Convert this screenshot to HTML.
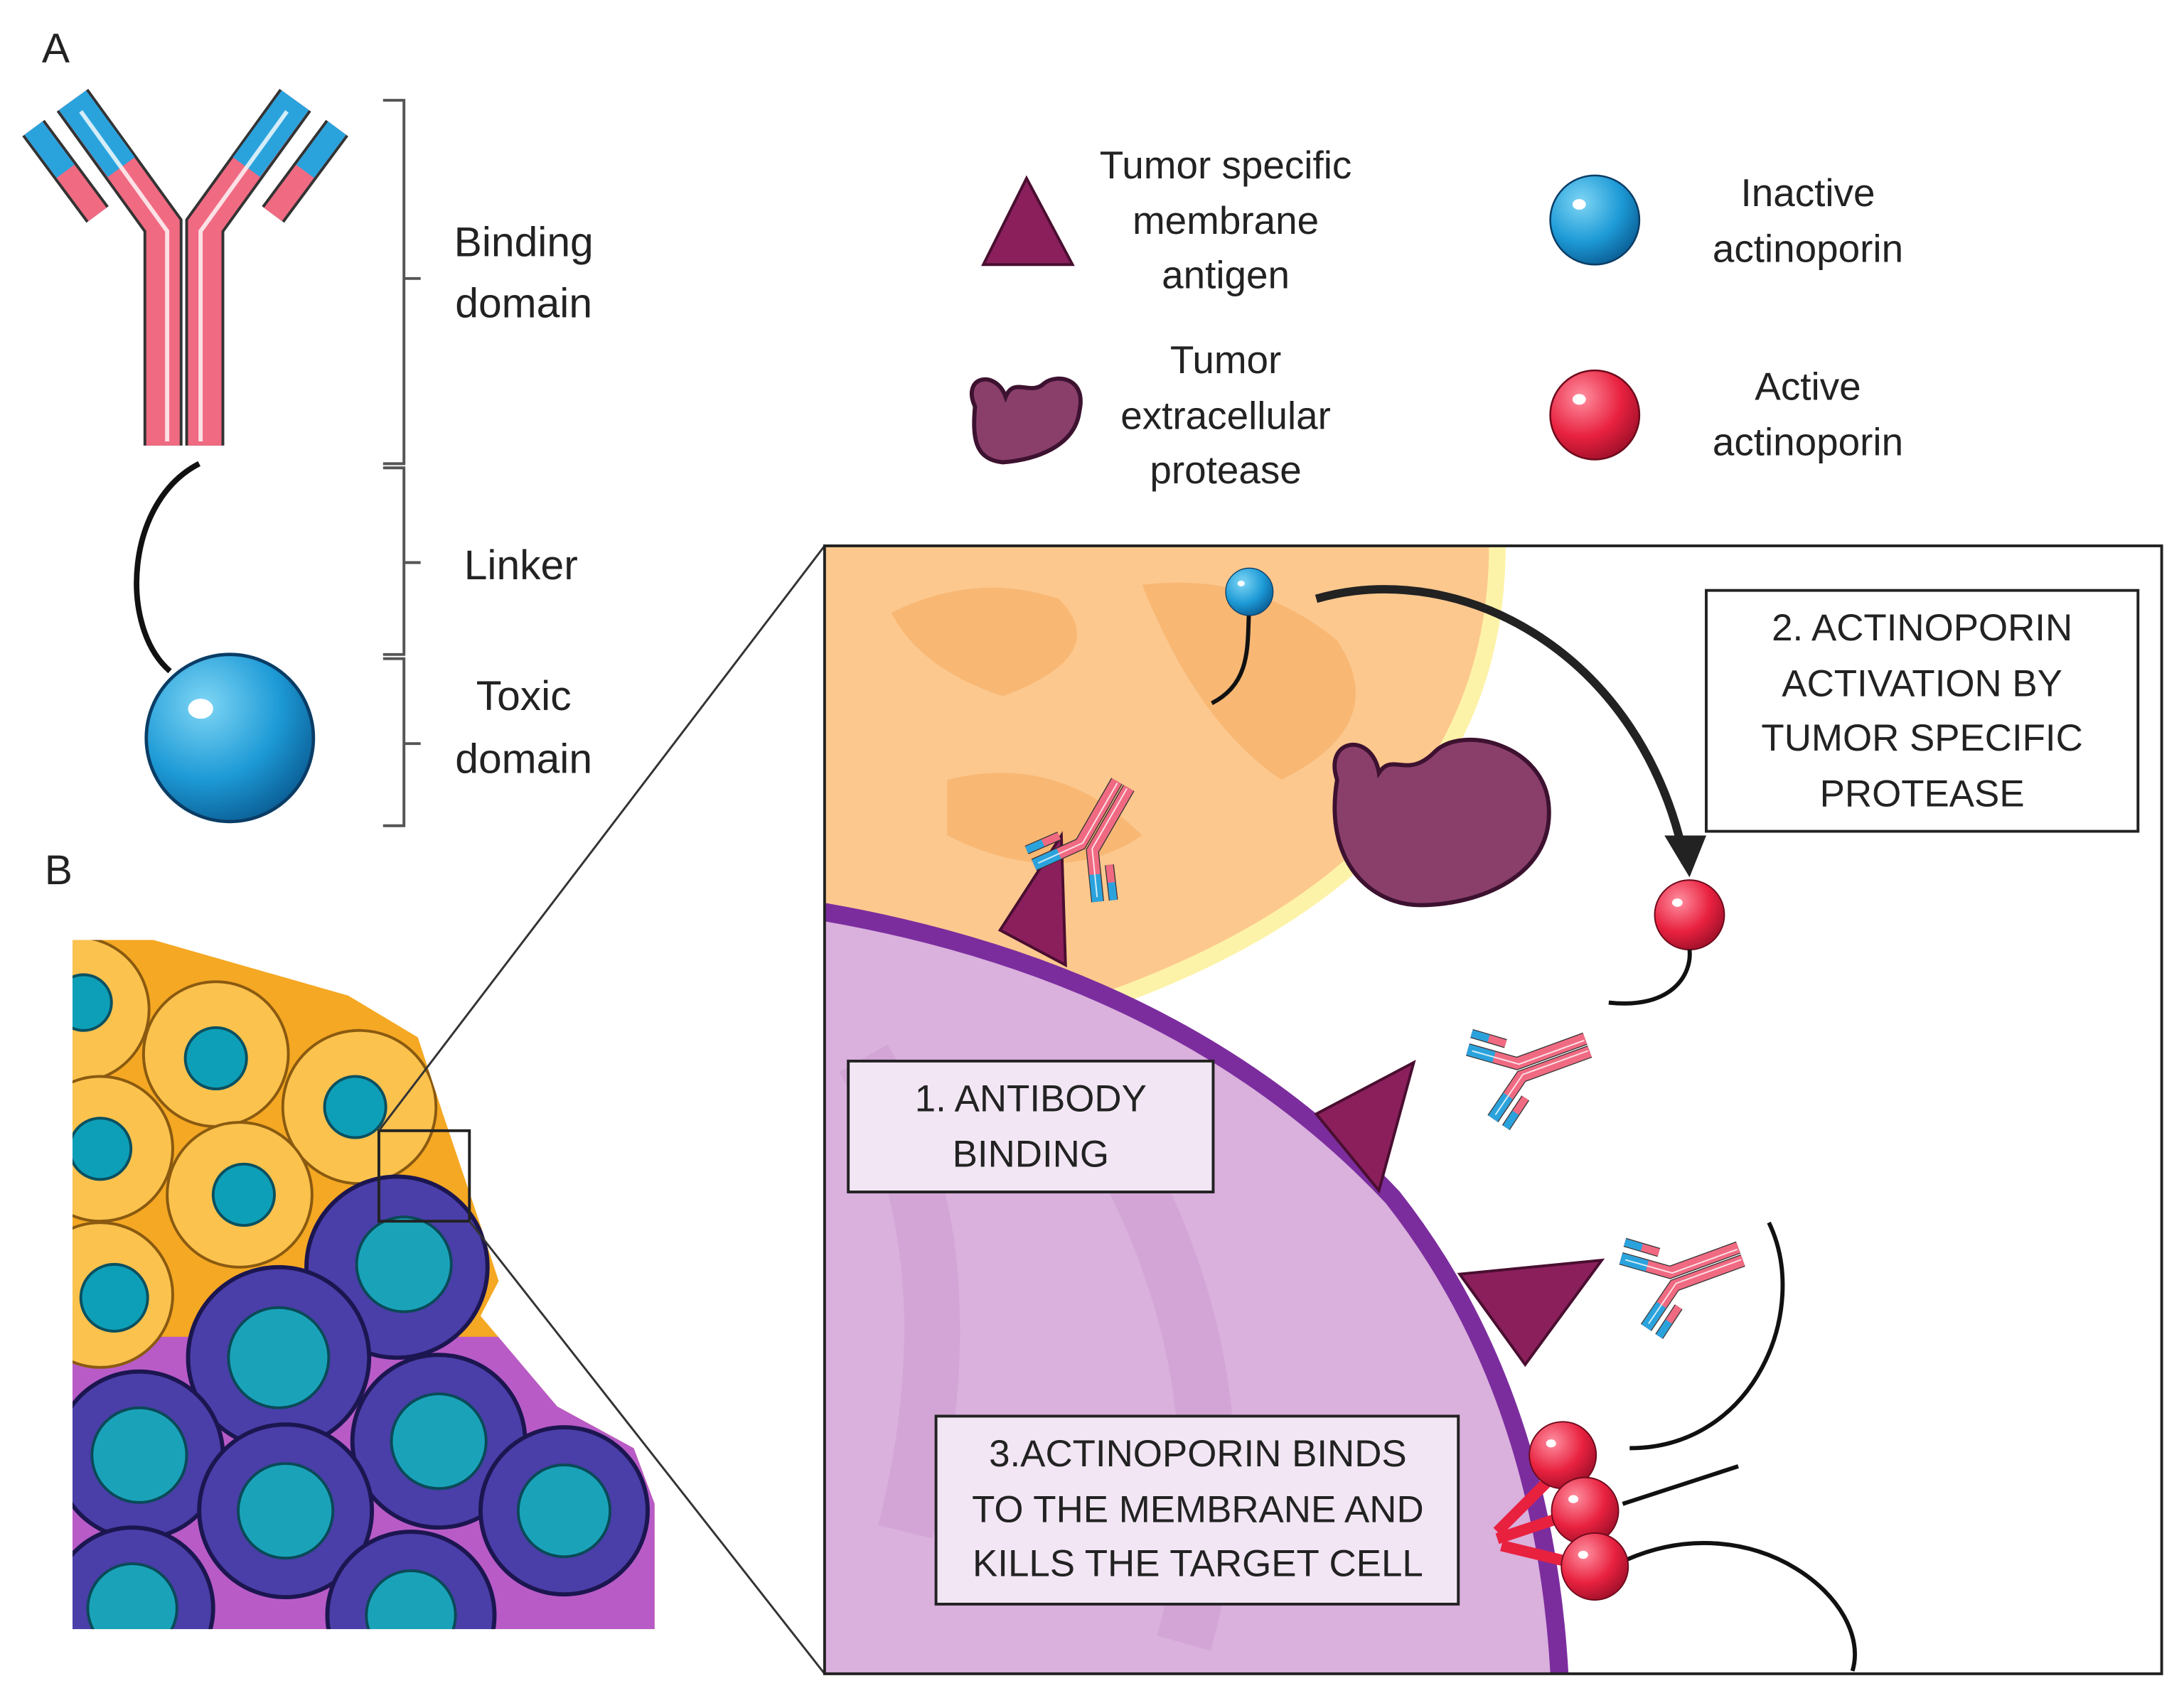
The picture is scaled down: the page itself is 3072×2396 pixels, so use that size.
<!DOCTYPE html>
<html><head><meta charset="utf-8"><style>
html,body{margin:0;padding:0;background:#fff}
svg{display:block}
text{font-family:"Liberation Sans",sans-serif;fill:#222}
</style></head><body>
<svg width="3072" height="2396" viewBox="0 0 1568 1223" xmlns="http://www.w3.org/2000/svg">
<defs>
<radialGradient id="gb" cx="0.35" cy="0.3" r="0.75"><stop offset="0" stop-color="#7fd6f5"/><stop offset="0.6" stop-color="#1d9ad6"/><stop offset="1" stop-color="#0b5f96"/></radialGradient>
<radialGradient id="gr" cx="0.35" cy="0.3" r="0.75"><stop offset="0" stop-color="#ff8fa0"/><stop offset="0.6" stop-color="#e8213f"/><stop offset="1" stop-color="#a0102a"/></radialGradient>
<g id="ab">
 <g stroke-linecap="butt" fill="none">
  <path d="M60,80 L125,170 L125,328" stroke="#333" stroke-width="28"/>
  <path d="M60,80 L125,170 L125,328" stroke="#f06a82" stroke-width="24"/>
  <path d="M60,80 L95,128" stroke="#2aa3dd" stroke-width="24"/>
  <path d="M220,80 L155,170 L155,328" stroke="#333" stroke-width="28"/>
  <path d="M220,80 L155,170 L155,328" stroke="#f06a82" stroke-width="24"/>
  <path d="M220,80 L185,128" stroke="#2aa3dd" stroke-width="24"/>
  <path d="M32,100 L78,162" stroke="#333" stroke-width="20"/>
  <path d="M32,100 L78,162" stroke="#f06a82" stroke-width="16"/>
  <path d="M32,100 L55,131" stroke="#2aa3dd" stroke-width="16"/>
  <path d="M250,100 L204,162" stroke="#333" stroke-width="20"/>
  <path d="M250,100 L204,162" stroke="#f06a82" stroke-width="16"/>
  <path d="M250,100 L227,131" stroke="#2aa3dd" stroke-width="16"/>
  <path d="M66,88 L128,174 L128,325 M214,88 L152,174 L152,325" stroke="#fff" stroke-width="3" opacity="0.8"/>
 </g>
</g>
<g id="bs"><circle r="1" fill="url(#gb)" stroke="#0a3d66" stroke-width="0.04"/><ellipse cx="-0.35" cy="-0.35" rx="0.15" ry="0.12" fill="#fff"/></g>
<g id="rs"><circle r="1" fill="url(#gr)" stroke="#6e0a1c" stroke-width="0.04"/><ellipse cx="-0.35" cy="-0.35" rx="0.15" ry="0.12" fill="#fff"/></g>
<clipPath id="zc"><rect x="592" y="392" width="960" height="810"/></clipPath>
<clipPath id="tc"><path d="M52,675 L110,675 L250,715 L300,745 L318,800 L345,880 L358,920 L345,945 L400,1010 L455,1040 L470,1080 L470,1170 L52,1170 Z"/></clipPath>
</defs>

<text x="30" y="45" font-size="30">A</text>
<text x="32" y="635" font-size="30">B</text>

<use href="#ab" transform="translate(-8,-8)"/>
<path d="M143,333 C90,360 85,450 122,482" stroke="#111" stroke-width="4" fill="none"/>
<use href="#bs" transform="translate(165,530) scale(60)"/>
<path d="M275,72 L290,72 L290,333 L275,333 M290,200 L302,200 M275,336 L290,336 L290,470 L275,470 M290,404 L302,404 M275,473 L290,473 L290,593 L275,593 M290,534 L302,534" stroke="#555" stroke-width="2" fill="none"/>
<g font-size="30" text-anchor="middle">
<text x="376" y="184">Binding</text><text x="376" y="228">domain</text>
<text x="374" y="416">Linker</text>
<text x="376" y="510">Toxic</text><text x="376" y="555">domain</text>
</g>

<polygon points="737,128 770,190 706,190" fill="#8b1f5c" stroke="#4a0e30" stroke-width="2"/>
<path d="M700,292 C690,270 715,265 722,285 C728,270 740,285 750,275 C760,268 780,272 775,295 C772,320 745,330 720,332 C700,330 698,315 700,292 Z" fill="#8a3f6a" stroke="#3d1230" stroke-width="3"/>
<use href="#bs" transform="translate(1145,158) scale(32)"/>
<use href="#rs" transform="translate(1145,298) scale(32)"/>
<g font-size="28" text-anchor="middle">
<text x="880" y="128">Tumor specific</text><text x="880" y="168">membrane</text><text x="880" y="207">antigen</text>
<text x="880" y="268">Tumor</text><text x="880" y="308">extracellular</text><text x="880" y="347">protease</text>
<text x="1298" y="148">Inactive</text><text x="1298" y="188">actinoporin</text>
<text x="1298" y="287">Active</text><text x="1298" y="327">actinoporin</text>
</g>

<g clip-path="url(#tc)">
<rect x="52" y="675" width="420" height="500" fill="#f5a823"/>
<rect x="52" y="960" width="420" height="220" fill="#b85bc7"/>
<g stroke="#8a5a10" stroke-width="2" fill="#fbc24e">
<circle cx="55" cy="725" r="52"/><circle cx="155" cy="757" r="52"/><circle cx="258" cy="795" r="55"/>
<circle cx="72" cy="825" r="52"/><circle cx="172" cy="858" r="52"/><circle cx="72" cy="930" r="52"/>
</g>
<g fill="#0e9fb8" stroke="#0a5060" stroke-width="2">
<circle cx="60" cy="720" r="20"/><circle cx="155" cy="760" r="22"/><circle cx="255" cy="795" r="22"/>
<circle cx="72" cy="825" r="22"/><circle cx="175" cy="858" r="22"/><circle cx="82" cy="932" r="24"/>
</g>
<g fill="#4a3ea8" stroke="#1c1650" stroke-width="3">
<circle cx="285" cy="910" r="65"/><circle cx="200" cy="975" r="65"/><circle cx="315" cy="1035" r="62"/>
<circle cx="100" cy="1045" r="60"/><circle cx="205" cy="1085" r="62"/><circle cx="405" cy="1085" r="60"/>
<circle cx="95" cy="1155" r="58"/><circle cx="295" cy="1160" r="60"/>
</g>
<g fill="#1aa3b8" stroke="#0a4a58" stroke-width="2">
<circle cx="290" cy="908" r="34"/><circle cx="200" cy="975" r="36"/><circle cx="315" cy="1035" r="34"/>
<circle cx="100" cy="1045" r="34"/><circle cx="205" cy="1085" r="34"/><circle cx="405" cy="1085" r="33"/>
<circle cx="95" cy="1155" r="32"/><circle cx="295" cy="1160" r="32"/>
</g>
</g>
<rect x="272" y="812" width="65" height="65" fill="none" stroke="#222" stroke-width="2"/>
<path d="M272,812 L592,392 M337,877 L592,1202" stroke="#333" stroke-width="1.5"/>

<g clip-path="url(#zc)">
<rect x="592" y="392" width="960" height="810" fill="#fff"/>
<path d="M592,392 L1075,392 Q1075,620 790,720 L592,655 Z" fill="#fcc88e"/>
<path d="M640,440 Q700,410 760,430 Q800,470 720,500 Q660,480 640,440 Z M820,420 Q900,410 960,460 Q1000,520 920,560 Q860,520 820,420 Z M680,560 Q760,540 820,600 Q760,640 680,600 Z" fill="#f7b06a" opacity="0.7"/>
<path d="M1075,392 Q1075,620 790,720" stroke="#fdf3a8" stroke-width="12" fill="none"/>
<path d="M592,655 Q850,700 1000,860 Q1110,1000 1120,1210 L592,1210 Z" fill="#dab0dd"/>
<path d="M620,760 Q700,900 650,1100 M800,820 Q900,1000 850,1180" stroke="#c99ad0" stroke-width="40" fill="none" opacity="0.5"/>
<path d="M592,655 Q850,700 1000,860 Q1110,1000 1120,1210" stroke="#7b2d9e" stroke-width="13" fill="none"/>
</g>
<rect x="592" y="392" width="960" height="810" fill="none" stroke="#222" stroke-width="2"/>

<polygon points="762,600 765,693 718,668" fill="#8b1f5c" stroke="#4a0e30" stroke-width="2"/>
<polygon points="1015,763 990,855 945,800" fill="#8b1f5c" stroke="#4a0e30" stroke-width="2"/>
<polygon points="1150,905 1095,980 1048,915" fill="#8b1f5c" stroke="#4a0e30" stroke-width="2"/>
<path d="M960,560 C950,530 985,525 990,555 C1000,540 1010,560 1030,540 C1050,520 1110,535 1112,580 C1115,630 1060,650 1020,650 C985,650 950,620 960,560 Z" fill="#8a3f6a" stroke="#3d1230" stroke-width="3"/>
<use href="#ab" transform="translate(785,600) rotate(-150) scale(0.33) translate(-140,-200)"/>
<use href="#ab" transform="translate(1100,765) rotate(-110) scale(0.33) translate(-140,-200)"/>
<use href="#ab" transform="translate(1210,915) rotate(-110) scale(0.33) translate(-140,-200)"/>
<path d="M870,505 C900,490 895,460 897,435" stroke="#111" stroke-width="3" fill="none"/>
<use href="#bs" transform="translate(897,425) scale(17)"/>
<path d="M945,430 C1050,400 1180,470 1210,620" stroke="#222" stroke-width="6" fill="none"/>
<polygon points="1195,600 1225,600 1213,630" fill="#222"/>
<use href="#rs" transform="translate(1213,657) scale(25)"/>
<path d="M1155,720 C1200,725 1215,700 1213,682" stroke="#111" stroke-width="3" fill="none"/>
<path d="M1270,878 C1300,940 1260,1040 1170,1040 M1165,1080 L1248,1053 M1168,1120 C1260,1080 1345,1150 1330,1200" stroke="#111" stroke-width="3" fill="none"/>
<path d="M1075,1100 L1125,1050 M1075,1105 L1135,1085 M1078,1110 L1140,1125" stroke="#e8213f" stroke-width="8"/>
<use href="#rs" transform="translate(1122,1045) scale(24)"/>
<use href="#rs" transform="translate(1138,1085) scale(24)"/>
<use href="#rs" transform="translate(1145,1125) scale(24)"/>

<rect x="609" y="762" width="262" height="94" fill="#f2e6f4" stroke="#222" stroke-width="2"/>
<rect x="1225" y="424" width="310" height="173" fill="#fff" stroke="#222" stroke-width="2"/>
<rect x="672" y="1017" width="375" height="135" fill="#f2e6f4" stroke="#222" stroke-width="2"/>
<g font-size="27" text-anchor="middle">
<text x="740" y="798">1. ANTIBODY</text><text x="740" y="838">BINDING</text>
<text x="1380" y="460">2. ACTINOPORIN</text><text x="1380" y="500">ACTIVATION BY</text><text x="1380" y="539">TUMOR SPECIFIC</text><text x="1380" y="579">PROTEASE</text>
<text x="860" y="1053">3.ACTINOPORIN BINDS</text><text x="860" y="1093">TO THE MEMBRANE AND</text><text x="860" y="1132">KILLS THE TARGET CELL</text>
</g>
</svg>
</body></html>
